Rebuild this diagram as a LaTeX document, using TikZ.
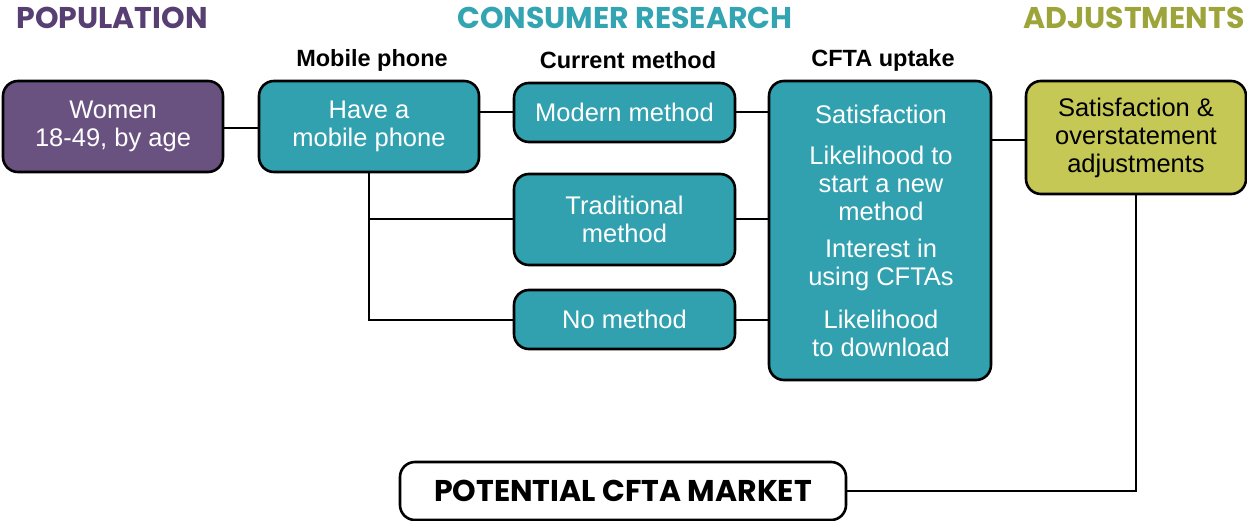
\documentclass[tikz,border=0pt]{standalone}
\usepackage{fontspec}
\setmainfont{Liberation Sans}
\newfontfamily\headfont{Poppins}[UprightFont=* SemiBold, BoldFont=* Bold]
\definecolor{purp}{HTML}{6A5280}
\definecolor{purphead}{HTML}{573F74}
\definecolor{teal}{HTML}{31A1AF}
\definecolor{tealhead}{HTML}{33A4B2}
\definecolor{olive}{HTML}{C6C856}
\definecolor{olivehead}{HTML}{9DA53A}
\begin{document}
\begin{tikzpicture}[x=1pt,y=-1pt,
  bodyfont/.style={font=\fontsize{25.5}{28}\selectfont},
  box/.style={draw=black, line width=2.6pt, rounded corners=15pt, text=white, align=center, inner sep=0pt, bodyfont},
  conn/.style={draw=black, line width=2pt},
  colhead/.style={font=\fontsize{23.5}{26}\selectfont\bfseries, anchor=center},
  tophead/.style={font=\fontsize{30}{32}\selectfont\headfont\bfseries, anchor=center}]
\useasboundingbox (0,0) rectangle (1247,521);
% top headers
\node[tophead, text=purphead] (hpop) at (112,18) {POPULATION};
\node[tophead, text=tealhead] (hcon) at (625,18) {CONSUMER RESEARCH};
\node[tophead, text=olivehead, anchor=east] (hadj) at (1248,18) {ADJUSTMENTS};
% column headers
\node[colhead] (cmob) at (372,60) {Mobile phone};
\node[colhead] (ccur) at (628,60) {Current method};
\node[colhead] (ccfta) at (883,60) {CFTA uptake};
% boxes
\node[box, fill=purp, minimum width=220pt, minimum height=91pt] (women) at (113,126.5) {Women\\18-49, by age};
\node[box, fill=teal, minimum width=220pt, minimum height=91pt] (have) at (369,126.5) {Have a\\mobile phone};
\node[box, fill=teal, minimum width=221pt, minimum height=59pt] (modern) at (624.5,112.5) {Modern method};
\node[box, fill=teal, minimum width=221pt, minimum height=91pt] (trad) at (624.5,219.5) {Traditional\\method};
\node[box, fill=teal, minimum width=221pt, minimum height=59pt] (none) at (624.5,319.5) {No method};
\node[box, fill=teal, minimum width=222pt, minimum height=299pt] (cfta) at (880,230.5) {};
\node[text=white, bodyfont] (t1) at (881,114) {Satisfaction};
\node[text=white, align=center, bodyfont] (t2) at (881,183) {Likelihood to\\start a new\\method};
\node[text=white, align=center, bodyfont] (t3) at (881,265) {Interest in\\using CFTAs};
\node[text=white, align=center, bodyfont] (t4) at (881,333) {Likelihood\\to download};
\node[box, fill=olive, text=black, minimum width=220pt, minimum height=113pt] (adj) at (1136,137.5) {Satisfaction \&\\overstatement\\adjustments};
\node[box, fill=white, text=black, minimum width=446pt, minimum height=58pt, font=\fontsize{30}{32}\selectfont\headfont\bfseries] (pot) at (623,491) {POTENTIAL CFTA MARKET};
% connectors
\draw[conn] (women.east |- 0,128) -- (have.west |- 0,128);
\draw[conn] (have.east |- modern.west) -- (modern.west);
\draw[conn] (modern.east) -- (cfta.west |- modern.east);
\draw[conn] (have.south) -- (have.south |- none.west) -- (none.west);
\draw[conn] (have.south |- trad.west) -- (trad.west);
\draw[conn] (trad.east) -- (cfta.west |- trad.east);
\draw[conn] (none.east) -- (cfta.west |- none.east);
\draw[conn] (cfta.east |- 0,140) -- (adj.west |- 0,140);
\draw[conn] (adj.south) -- (adj.south |- pot.east) -- (pot.east);
\end{tikzpicture}
\end{document}
